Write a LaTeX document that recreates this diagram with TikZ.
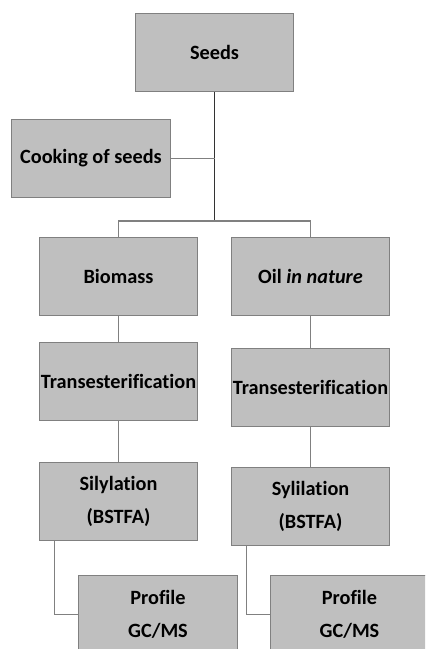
\documentclass[tikz,border=0pt]{standalone}
\usepackage{fontspec}
\setmainfont[Ligatures=NoCommon]{Carlito}
\usepackage{tikz}
\usetikzlibrary{positioning}
\definecolor{boxfill}{RGB}{191, 191, 191}
\definecolor{boxline}{RGB}{128, 128, 128}

\begin{document}
\begin{tikzpicture}[x=0.75pt, y=-0.75pt,
  stepbox/.style={draw=boxline, fill=boxfill, line width=0.8pt, minimum width=119pt,
    minimum height=59pt, inner sep=0pt, align=center,
    font=\fontsize{15.2}{24.5}\selectfont\bfseries},
  link/.style={draw=boxline, line width=0.8pt}]

% canvas
\useasboundingbox (0,0) rectangle (425,649);
\clip (0,0) rectangle (425,649);
\fill[white] (0,0) rectangle (425,649);

% top
\node[stepbox] (seeds) at (214.5, 52.5) {Seeds};
\node[stepbox] (cook) at (91, 158.5) {Cooking of seeds};
\coordinate (split) at (214.5, 221);

% left branch
\node[stepbox] (bio) at (118.5, 276.5) {Biomass};
\node[stepbox] (transL) at (118.5, 381.5) {Transesterification};
\node[stepbox] (silL) at (118.5, 501.5) {Silylation\\(BSTFA)};
\node[stepbox] (profL) at (158, 614.5) {Profile\\GC/MS};

% right branch
\node[stepbox] (oil) at (310.5, 276.5) {Oil \textit{in nature}};
\node[stepbox] (transR) at (310.5, 387.5) {Transesterification};
\node[stepbox] (silR) at (310.5, 506.5) {Sylilation\\(BSTFA)};
\node[stepbox] (profR) at (349.5, 614.5) {Profile\\GC/MS};

% connectors
\draw[line width=0.8pt, black!80] (seeds.south) -- (split);
\draw[link] (cook.east) -- (cook.east -| seeds.south);
\draw[link] (bio.north) |- (split) -| (oil.north);
\draw[link] (bio) -- (transL);
\draw[link] (transL) -- (silL);
\draw[link] (oil) -- (transR);
\draw[link] (transR) -- (silR);
\draw[link] (silL.south west) ++(16,0) |- (profL.west);
\draw[link] (silR.south west) ++(16,0) |- (profR.west);

\end{tikzpicture}
\end{document}
